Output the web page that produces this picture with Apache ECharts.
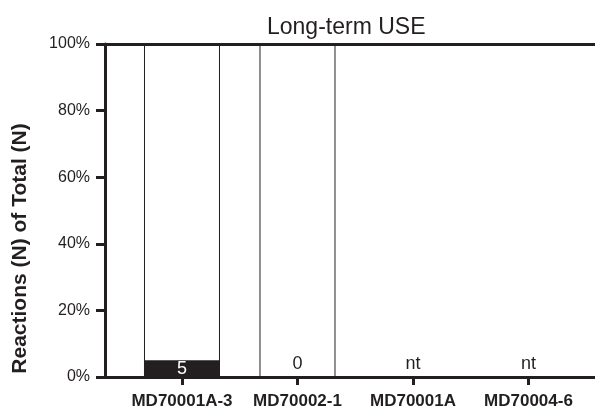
<!DOCTYPE html>
<html>
<head>
<meta charset="utf-8">
<script src="https://cdn.jsdelivr.net/npm/echarts@6/dist/echarts.min.js"></script>
<style>html,body{margin:0;padding:0;background:#fff}#c{width:595px;height:410px}</style>
</head>
<body>
<div id="c"></div>
<script>
const categories = ['MD70001A-3', 'MD70002-1', 'MD70001A', 'MD70004-6'];
const reactionPct = [5, 0, 0, 0];
const totalPct = [100, 100, null, null];
const barLabels = ['5', '0', 'nt', 'nt'];

const INK = '#231f20';
const FONT = 'Liberation Sans, Arial, sans-serif';
const catPositions = categories.map((c, i) => i);

const chart = echarts.init(document.getElementById('c'), null, {renderer: 'canvas'});
chart.setOption({
  animation: false,
  backgroundColor: '#fff',
  title: {
    text: 'Long-term USE',
    left: 262, top: 11,
    textStyle: {fontFamily: FONT, fontSize: 23, fontWeight: 'normal', color: INK}
  },
  grid: {left: 105, right: 0, top: 44, bottom: 32},
  xAxis: [{
    type: 'value',
    z: 5,
    min: -2/3, max: 3.576,
    splitLine: {show: false},
    axisLine: {show: true, onZero: false, lineStyle: {color: INK, width: 3}},
    axisTick: {show: true, customValues: catPositions, length: 8, lineStyle: {color: INK, width: 3}},
    axisLabel: {
      show: true, customValues: catPositions, margin: 16,
      formatter: v => categories[Math.round(v)],
      fontFamily: FONT, fontSize: 17, fontWeight: 'bold', color: INK
    }
  }, {
    type: 'value',
    position: 'top',
    z: 5,
    min: -2/3, max: 3.576,
    splitLine: {show: false},
    axisLine: {show: true, onZero: false, lineStyle: {color: INK, width: 3}},
    axisTick: {show: false},
    axisLabel: {show: false}
  }],
  yAxis: {
    type: 'value',
    z: 5,
    min: 0, max: 100, interval: 20,
    name: 'Reactions (N) of Total (N)',
    nameLocation: 'middle',
    nameRotate: 90,
    nameGap: 74,
    nameTextStyle: {fontFamily: FONT, fontSize: 21, fontWeight: 'bold', color: INK, padding: [0, 76, 0, 0]},
    splitLine: {show: false},
    axisLine: {show: true, onZero: false, lineStyle: {color: INK, width: 3}},
    axisTick: {show: true, length: 9, lineStyle: {color: INK, width: 3}},
    axisLabel: {
      margin: 15, formatter: '{value}%',
      fontFamily: FONT, fontSize: 16, color: INK
    }
  },
  series: [{
    name: 'Total',
    type: 'bar',
    z: 2,
    barWidth: 76,
    barGap: '-100%',
    itemStyle: {color: '#ffffff', borderColor: INK, borderWidth: 1},
    data: totalPct.map((v, i) => [i, v])
  }, {
    name: 'Reactions',
    type: 'bar',
    z: 3,
    barWidth: 76,
    barGap: '-100%',
    itemStyle: {color: INK},
    data: reactionPct.map((v, i) => ({
      value: [i, v],
      label: {
        show: true,
        formatter: () => barLabels[i],
        position: v > 0 ? 'inside' : 'insideBottom',
        distance: 4,
        color: v > 0 ? '#ffffff' : INK,
        fontFamily: FONT, fontSize: 18
      }
    }))
  }]
});
</script>
</body>
</html>
